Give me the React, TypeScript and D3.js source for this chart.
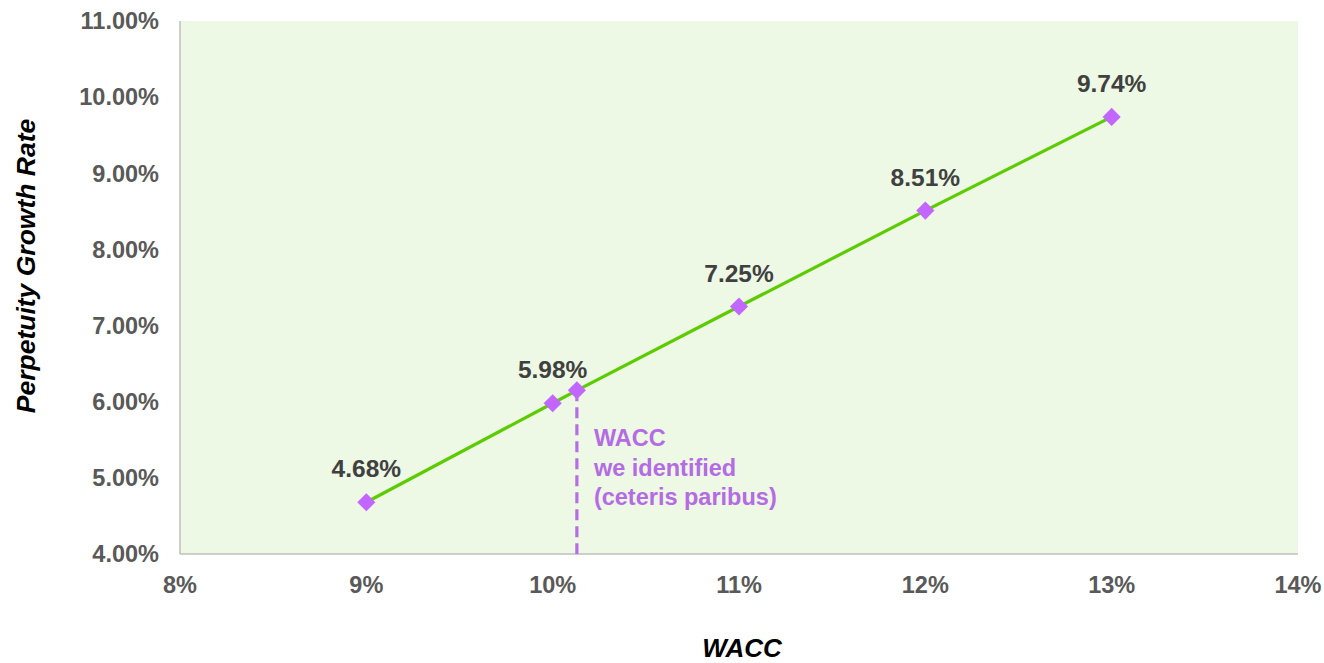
import React from "react";
import * as d3 from "d3";

// WACC (%) vs perpetuity growth rate (%)
const waccValues = [9, 10, 11, 12, 13];
const growthValues = [4.68, 5.98, 7.25, 8.51, 9.74];
const identifiedWacc = [10.13];
const identifiedGrowth = [6.15];
const xTicks = [8, 9, 10, 11, 12, 13, 14];
const yTicks = [4, 5, 6, 7, 8, 9, 10, 11];
const noteLines = ["WACC", "we identified", "(ceteris paribus)"];

const W = 1324;
const H = 663;
const left = 180;
const right = 1298;
const top = 21;
const bottom = 554;

export default function App() {
  const x = d3.scaleLinear().domain([8, 14]).range([left, right]);
  const y = d3.scaleLinear().domain([4, 11]).range([bottom, top]);

  const pts = waccValues.map((w, i) => ({ w, g: growthValues[i] }));
  const extra = identifiedWacc.map((w, i) => ({ w, g: identifiedGrowth[i] }));
  const allPts = [...pts, ...extra].sort((a, b) => a.w - b.w);

  const line = d3
    .line<{ w: number; g: number }>()
    .x((d) => x(d.w))
    .y((d) => y(d.g));

  const diamond = d3.symbol().type(d3.symbolDiamond2).size(210)();
  const font = "Liberation Sans, Arial, sans-serif";

  return (
    <svg
      width={W}
      height={H}
      style={{ position: "absolute", left: 0, top: 0 }}
      fontFamily={font}
    >
      <rect x={left} y={top} width={right - left} height={bottom - top} fill="#edf8e5" />
      <line x1={left} x2={left} y1={top} y2={bottom} stroke="#bfbfbf" strokeWidth={1.5} />
      <line x1={left} x2={right} y1={bottom} y2={bottom} stroke="#bfbfbf" strokeWidth={1.5} />

      {yTicks.map((t) => (
        <text
          key={t}
          x={159}
          y={y(t)}
          dy="0.35em"
          textAnchor="end"
          fontSize={23.5}
          fontWeight="bold"
          fill="#595959"
        >
          {d3.format(".2f")(t)}%
        </text>
      ))}
      {xTicks.map((t) => (
        <text
          key={t}
          x={x(t)}
          y={593}
          textAnchor="middle"
          fontSize={23.5}
          fontWeight="bold"
          fill="#595959"
        >
          {t}%
        </text>
      ))}

      <text
        transform="translate(35,266) rotate(-90)"
        textAnchor="middle"
        fontSize={26.5}
        fontWeight="bold"
        fontStyle="italic"
        fill="#000"
      >
        Perpetuity Growth Rate
      </text>
      <text
        x={742}
        y={657}
        textAnchor="middle"
        fontSize={26}
        fontWeight="bold"
        fontStyle="italic"
        fill="#000"
      >
        WACC
      </text>

      {extra.map((d, i) => (
        <line
          key={i}
          x1={x(d.w)}
          x2={x(d.w)}
          y1={y(d.g)}
          y2={bottom}
          stroke="#b76de6"
          strokeWidth={3.2}
          strokeDasharray="11,6"
        />
      ))}

      <path d={line(allPts) || ""} fill="none" stroke="#5ccc00" strokeWidth={3.2} />

      {allPts.map((d, i) => (
        <path
          key={i}
          d={diamond || ""}
          transform={`translate(${x(d.w)},${y(d.g)})`}
          fill="#c266ff"
        />
      ))}

      {pts.map((d, i) => (
        <text
          key={i}
          x={x(d.w)}
          y={y(d.g) - 25}
          textAnchor="middle"
          fontSize={24.5}
          fontWeight="bold"
          fill="#404040"
        >
          {d3.format(".2f")(d.g)}%
        </text>
      ))}

      {extra.map((d, i) => (
        <text
          key={i}
          x={x(d.w) + 17}
          y={446}
          fontSize={23.5}
          fontWeight="bold"
          fill="#b46be3"
        >
          {noteLines.map((l, j) => (
            <tspan key={j} x={x(d.w) + 17} y={446 + j * 29.5}>
              {l}
            </tspan>
          ))}
        </text>
      ))}
    </svg>
  );
}
